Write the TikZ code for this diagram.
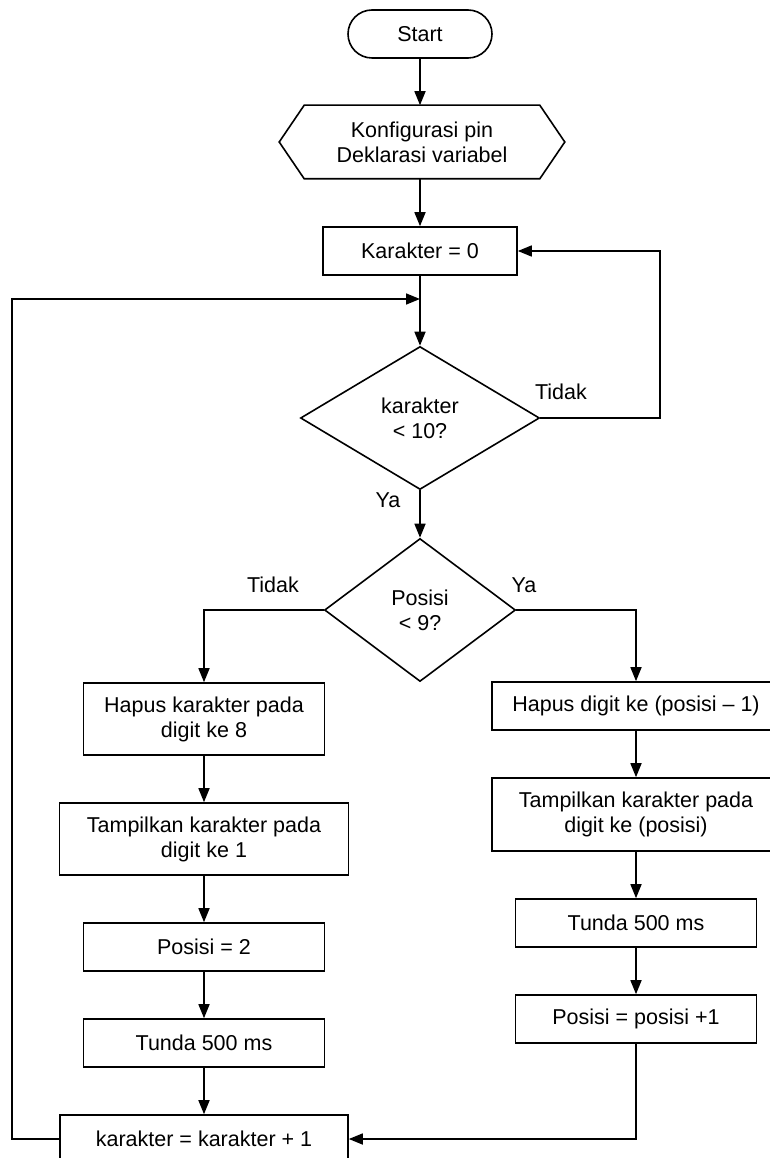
\documentclass[tikz,border=0pt]{standalone}
\usepackage{fontspec}
\setmainfont{Liberation Sans}
\usetikzlibrary{arrows.meta,shapes.geometric}
\tikzset{
  base/.style={draw, line width=1.6pt, align=center, inner sep=0pt,
    font=\fontsize{21.5}{25}\selectfont},
  proc/.style={base, rectangle, minimum height=48pt},
  term/.style={base, rectangle, rounded corners=24pt, minimum width=144pt, minimum height=48pt},
  dec/.style={base, diamond, aspect=1.6},
  lbl/.style={font=\fontsize{21.5}{25}\selectfont, inner sep=0pt},
  conn/.style={line width=1.6pt, -{Triangle[length=14pt,width=11pt]}},
  plain/.style={line width=1.6pt}
}
\begin{document}
\begin{tikzpicture}[x=1pt,y=-1pt]
\useasboundingbox (0,0) rectangle (769,1158);
% nodes
\node[term] (start) at (420,34) {Start};
\node[base, draw=none, minimum width=284pt, minimum height=72pt] (hex) at (422,142) {Konfigurasi pin\\Deklarasi variabel};
\draw[plain, line join=miter] (hex.west) -- ([xshift=25pt]hex.north west) -- ([xshift=-25pt]hex.north east)
  -- (hex.east) -- ([xshift=-25pt]hex.south east) -- ([xshift=25pt]hex.south west) -- cycle;
\node[proc, minimum width=194pt] (k0) at (420,251) {Karakter = 0};
\node[dec, minimum width=239pt, minimum height=143pt] (d1) at (420,418) {karakter\\< 10?};
\node[dec, minimum width=191pt, minimum height=143pt] (d2) at (420,610) {Posisi\\< 9?};

\node[proc, minimum width=241pt, minimum height=72pt] (lhap) at (204,719) {Hapus karakter pada\\digit ke 8};
\node[proc, minimum width=289pt, minimum height=72pt] (ltam) at (204,839) {Tampilkan karakter pada\\digit ke 1};
\node[proc, minimum width=241pt] (lpos) at (204,947) {Posisi = 2};
\node[proc, minimum width=241pt] (ltun) at (204,1043) {Tunda 500 ms};
\node[proc, minimum width=288pt] (kplus) at (204,1139) {karakter = karakter + 1};

\node[proc, minimum width=288pt] (rhap) at (636,706) {Hapus digit ke (posisi -- 1)};
\node[proc, minimum width=288pt, minimum height=73pt] (rtam) at (636,814.5) {Tampilkan karakter pada\\digit ke (posisi)};
\node[proc, minimum width=241pt] (rtun) at (636,923) {Tunda 500 ms};
\node[proc, minimum width=241pt] (rpos) at (636,1019) {Posisi = posisi +1};

% labels
\node[lbl] (l1) at (561,392) {Tidak};
\node[lbl] (l2) at (388,500) {Ya};
\node[lbl] (l3) at (273,585) {Tidak};
\node[lbl] (l4) at (524,585) {Ya};

% helper coordinates
\coordinate (rl1) at (660,418);
\coordinate (rl2) at (660,251);
\coordinate (bl) at (636,610);
\coordinate (al) at (204,610);
\coordinate (rb) at (636,1139);
\coordinate (lb) at (12,1139);
\coordinate (lt) at (12,299);
\coordinate (lj) at (420,299);

% connectors
\draw[conn] (start.south) -- (start.south |- hex.north);
\draw[conn] (k0.north |- hex.south) -- (k0.north);
\draw[conn] (k0) -- (d1);
\draw[conn] (d1.east) -- (rl1) -- (rl2) -- (k0.east);
\draw[conn] (d1) -- (d2);
\draw[conn] (d2.west) -- (al) -- (lhap.north);
\draw[conn] (d2.east) -- (bl) -- (rhap.north);
\draw[conn] (lhap) -- (ltam);
\draw[conn] (ltam) -- (lpos);
\draw[conn] (lpos) -- (ltun);
\draw[conn] (ltun) -- (kplus);
\draw[conn] (rhap) -- (rtam);
\draw[conn] (rtam) -- (rtun);
\draw[conn] (rtun) -- (rpos);
\draw[conn] (rpos.south) -- (rb) -- (kplus.east);
\draw[conn] (kplus.west) -- (lb) -- (lt) -- (lj);
\end{tikzpicture}
\end{document}
